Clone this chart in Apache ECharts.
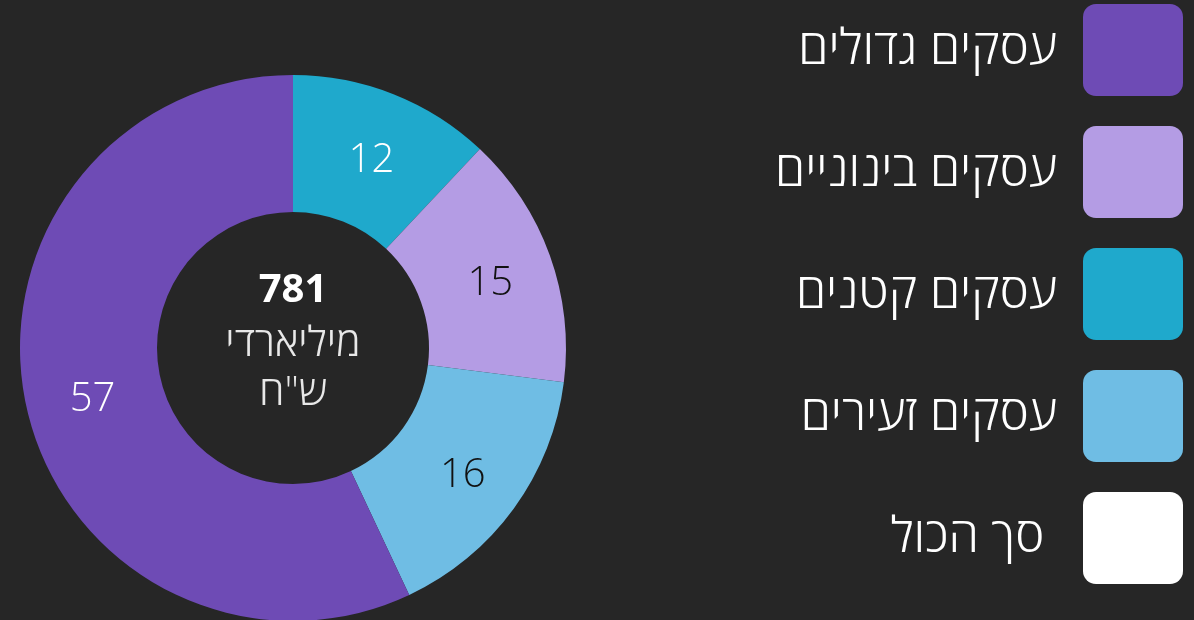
<html lang="he">
<head>
    <meta http-equiv="Content-Type" content="text/html; charset=UTF-8">
    <script type="text/javascript" src="https://cdn.jsdelivr.net/npm/echarts@6/dist/echarts.min.js"></script>
    <style>
        html, body { margin: 0; padding: 0; background: #262626; }
    </style>
</head>
<body>
<div id="main" style="height:620px;width:1194px;"></div>
<script type="text/javascript">
    // נתונים - בסדר השעון מלמעלה
    var names = ['עסקים קטנים', 'עסקים בינוניים', 'עסקים זעירים', 'עסקים גדולים'];
    var values = [12, 15, 16, 57];
    var colors = ['#1fa9cc', '#b49ce4', '#6fbde4', '#6e4bb5'];
    var labelColors = ['#ffffff', '#111111', '#111111', '#ffffff'];
    // סדר המקרא
    var legendNames = ['עסקים גדולים', 'עסקים בינוניים', 'עסקים קטנים', 'עסקים זעירים', 'סך הכול'];
    var totalName = 'סך הכול';
    var totalValue = '781';
    var totalUnit = ['מיליארדי', 'ש"ח'];

    var font = "'Open Sans', 'Noto Sans', 'DejaVu Sans', sans-serif";
    var myChart = echarts.init(document.getElementById('main'));

    var pieData = [];
    for (var i = 0; i < names.length; i++) {
        pieData.push({
            name: names[i],
            value: values[i],
            itemStyle: { color: colors[i] },
            label: { color: labelColors[i] }
        });
    }
    // פריט "סך הכול" - רק למקרא
    pieData.push({ name: totalName, value: 0, itemStyle: { color: '#ffffff' }, label: { show: false } });

    var roundBox = 'path://M13,0 H87 A13,13 0 0 1 100,13 V79 A13,13 0 0 1 87,92 H13 A13,13 0 0 1 0,79 V13 A13,13 0 0 1 13,0 Z';

    var option = {
        backgroundColor: '#262626',
        animation: false,
        legend: {
            orient: 'vertical',
            right: 11,
            top: 4,
            padding: 0,
            align: 'right',
            itemWidth: 100,
            itemHeight: 92,
            itemGap: 30,
            icon: roundBox,
            selectedMode: false,
            data: legendNames,
            formatter: function (n) { return n === totalName ? n + ' ' : n; },
            textStyle: {
                color: '#ffffff',
                fontSize: 49,
                fontWeight: 300,
                fontFamily: font,
                padding: [0, 21, 0, 0]
            }
        },
        graphic: [
            { type: 'text', style: { text: totalValue, x: 293, y: 291, align: 'center', verticalAlign: 'middle', fill: '#ffffff', font: 'bold 40px ' + font } },
            { type: 'text', style: { text: totalUnit[0], x: 293, y: 344, align: 'center', verticalAlign: 'middle', fill: '#e8e8e8', font: '300 41px ' + font } },
            { type: 'text', style: { text: totalUnit[1], x: 293, y: 393, align: 'center', verticalAlign: 'middle', fill: '#e8e8e8', font: '300 41px ' + font } }
        ],
        series: [{
            type: 'pie',
            center: [293, 348],
            radius: [136, 273],
            startAngle: 90,
            clockwise: true,
            avoidLabelOverlap: false,
            label: {
                show: true,
                position: 'inside',
                formatter: '{c}',
                fontSize: 40,
                fontWeight: 300,
                fontFamily: font,
                offset: [2, 6]
            },
            labelLine: { show: false },
            emphasis: { disabled: true },
            data: pieData
        }]
    };

    myChart.setOption(option);
</script>
</body>
</html>
